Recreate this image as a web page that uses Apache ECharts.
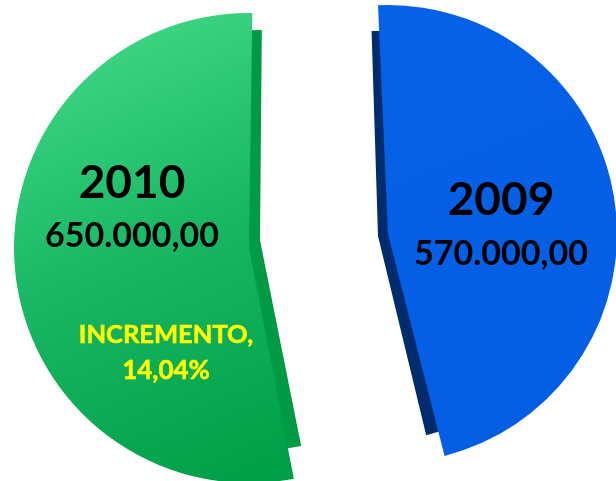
<!DOCTYPE html>
<html>
<head>
<meta charset="utf-8">
<style>html,body{margin:0;padding:0;background:#fff;overflow:hidden}#c{width:616px;height:481px}</style>
<script src="https://cdn.jsdelivr.net/npm/echarts@6/dist/echarts.min.js"></script>
</head>
<body>
<div id="c"></div>
<script>
const categories = ['2009', '2010'];
const values = [570000, 650000];
const valueLabels = ['570.000,00', '650.000,00'];
const incrementLabel = ['INCREMENTO,', '14,04%'];

const hidden = { color: 'rgba(0,0,0,0)', borderWidth: 0 };

function slicePie(visibleIdx, center, radius, startAngle, color, z) {
  return {
    type: 'pie', silent: true, animation: false, z: z,
    center: center, radius: radius, startAngle: startAngle, clockwise: true,
    minAngle: 0, avoidLabelOverlap: false,
    label: { show: false }, labelLine: { show: false },
    emphasis: { disabled: true },
    data: categories.map((name, i) => ({
      name: name, value: values[i],
      itemStyle: i === visibleIdx ? { color: color } : hidden
    }))
  };
}

const grad = (stops) => ({ type: 'linear', x: 0, y: 0, x2: 0.75, y2: 1,
  colorStops: stops });

const greenFace = grad([
  { offset: 0, color: '#4adc8c' },
  { offset: 0.3, color: '#2cc875' },
  { offset: 0.5, color: '#1bb865' },
  { offset: 1, color: '#00a048' }
]);
const blueFace = grad([
  { offset: 0, color: '#0761e8' },
  { offset: 1, color: '#035ee3' }
]);

function txt(x, y, text, size, fill, extra) {
  return { type: 'text', x: x, y: y, silent: true, z: 100,
    style: Object.assign({ text: text, fontSize: size, fontWeight: 'bold', fill: fill,
      fontFamily: 'Lato', align: 'center', verticalAlign: 'middle' }, extra || {}) };
}
const thicken = { stroke: '#ffff00', lineWidth: 0.5 };

const option = {
  backgroundColor: '#ffffff',
  animation: false,
  series: [
    slicePie(1, [260, 240], 210, 89.5, '#009a45', 1),
    slicePie(0, [378, 236], 205, 91.8, '#002c6e', 1),
    slicePie(1, [249, 248], 235, 89.2, greenFace, 2),
    slicePie(0, [388, 234], 229, 92.5, blueFace, 2)
  ],
  graphic: [
    txt(132, 183, categories[1], 46, '#000'),
    txt(132, 236, valueLabels[1], 34, '#000'),
    txt(501, 200, categories[0], 46, '#000'),
    txt(501, 254, valueLabels[0], 34, '#000'),
    txt(166, 335, incrementLabel[0], 25.5, '#ffff00', thicken),
    txt(166, 371, incrementLabel[1], 26, '#ffff00', thicken)
  ]
};
echarts.init(document.getElementById('c'), null, { renderer: 'canvas' }).setOption(option);
</script>
</body>
</html>
